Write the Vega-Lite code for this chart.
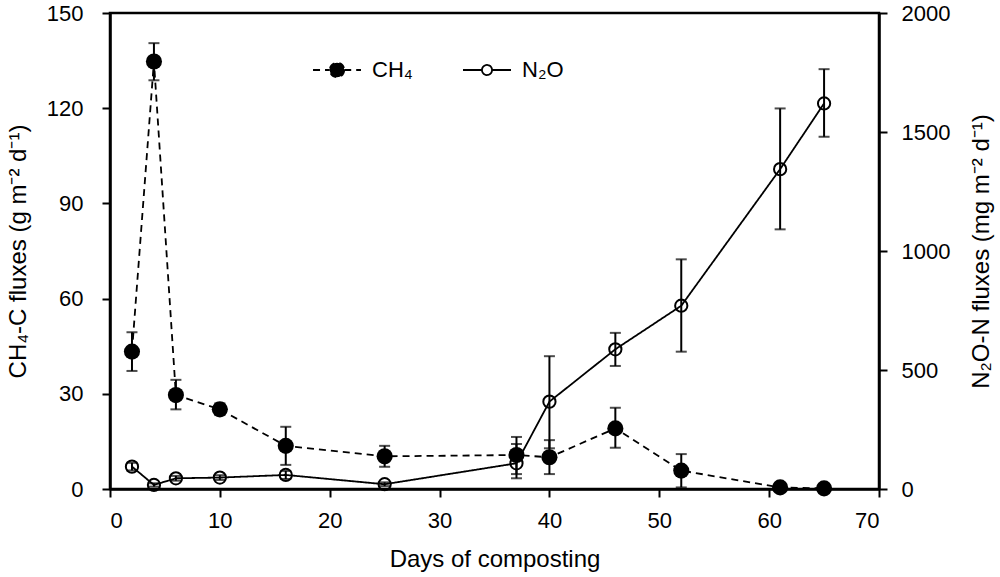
{
  "$schema": "https://vega.github.io/schema/vega-lite/v6.json",
  "width": 769,
  "height": 476,
  "autosize": {"type": "none"},
  "padding": {"left": 110, "top": 13, "right": 121, "bottom": 88},
  "background": "white",
  "config": {
    "font": "Liberation Sans",
    "view": {"stroke": "black", "strokeWidth": 2.5},
    "axis": {
      "grid": false,
      "domainColor": "black",
      "domainWidth": 2.5,
      "tickColor": "black",
      "tickWidth": 2,
      "tickSize": 8,
      "labelColor": "black",
      "labelFontSize": 22,
      "titleColor": "black",
      "titleFontSize": 24,
      "titleFontWeight": "normal"
    }
  },
  "datasets": {
    "ch4": [
      {"day": 2, "gas": "CH₄", "flux": 43.3, "lo": 37.2, "hi": 49.4},
      {"day": 4, "gas": "CH₄", "flux": 134.7, "lo": 128.8, "hi": 140.5},
      {"day": 6, "gas": "CH₄", "flux": 29.6, "lo": 25.1, "hi": 34.4},
      {"day": 10, "gas": "CH₄", "flux": 25.1, "lo": 23.3, "hi": 27.0},
      {"day": 16, "gas": "CH₄", "flux": 13.6, "lo": 7.6, "hi": 19.6},
      {"day": 25, "gas": "CH₄", "flux": 10.3, "lo": 7.0, "hi": 13.6},
      {"day": 37, "gas": "CH₄", "flux": 10.7, "lo": 4.7, "hi": 16.4},
      {"day": 40, "gas": "CH₄", "flux": 10.0, "lo": 4.7, "hi": 15.4},
      {"day": 46, "gas": "CH₄", "flux": 19.1, "lo": 13.0, "hi": 25.6},
      {"day": 52, "gas": "CH₄", "flux": 5.8, "lo": 0.5, "hi": 11.0},
      {"day": 61, "gas": "CH₄", "flux": 0.5, "lo": 0.2, "hi": 0.8},
      {"day": 65, "gas": "CH₄", "flux": 0.2, "lo": 0.1, "hi": 0.3}
    ],
    "n2o": [
      {"day": 2, "gas": "N₂O", "flux": 94, "lo": 78, "hi": 110},
      {"day": 4, "gas": "N₂O", "flux": 17, "lo": 10, "hi": 24},
      {"day": 6, "gas": "N₂O", "flux": 45, "lo": 35, "hi": 55},
      {"day": 10, "gas": "N₂O", "flux": 48, "lo": 38, "hi": 58},
      {"day": 16, "gas": "N₂O", "flux": 59, "lo": 42, "hi": 76},
      {"day": 25, "gas": "N₂O", "flux": 20, "lo": 12, "hi": 28},
      {"day": 37, "gas": "N₂O", "flux": 108, "lo": 45, "hi": 189},
      {"day": 40, "gas": "N₂O", "flux": 367, "lo": 171, "hi": 558},
      {"day": 46, "gas": "N₂O", "flux": 587, "lo": 517, "hi": 656},
      {"day": 52, "gas": "N₂O", "flux": 770, "lo": 577, "hi": 965},
      {"day": 61, "gas": "N₂O", "flux": 1344, "lo": 1091, "hi": 1599},
      {"day": 65, "gas": "N₂O", "flux": 1620, "lo": 1480, "hi": 1764}
    ]
  },
  "layer": [
    {
      "data": {"name": "ch4"},
      "encoding": {
        "x": {
          "field": "day", "type": "quantitative",
          "scale": {"domain": [0, 70], "nice": false},
          "axis": {"values": [0, 10, 20, 30, 40, 50, 60, 70], "title": "Days of composting", "labelPadding": 13, "titlePadding": 16}
        }
      },
      "layer": [
        {
          "mark": {"type": "rule", "color": "black", "strokeWidth": 2},
          "encoding": {
            "y": {"field": "lo", "type": "quantitative"},
            "y2": {"field": "hi"}
          }
        },
        {
          "mark": {"type": "tick", "color": "black", "thickness": 2, "size": 11, "orient": "horizontal"},
          "encoding": {"y": {"field": "lo", "type": "quantitative"}}
        },
        {
          "mark": {"type": "tick", "color": "black", "thickness": 2, "size": 11, "orient": "horizontal"},
          "encoding": {"y": {"field": "hi", "type": "quantitative"}}
        },
        {
          "mark": {"type": "line", "color": "black", "strokeWidth": 1.8},
          "encoding": {
            "y": {"field": "flux", "type": "quantitative"},
            "strokeDash": {
              "field": "gas", "type": "nominal",
              "scale": {"domain": ["CH₄", "N₂O"], "range": [[7, 5], [1, 0]]},
              "legend": {
                "orient": "none",
                "direction": "horizontal",
                "legendX": 202,
                "legendY": 32,
                "title": null,
                "padding": 0,
                "symbolSize": 2300,
                "symbolType": "M-1,0H-0.3M0.3,0H1M0.3,0A0.3,0.3 0 1,1 -0.3,0A0.3,0.3 0 1,1 0.3,0Z",
                "symbolStrokeColor": "black",
                "symbolStrokeWidth": 1.8,
                "labelFontSize": 22,
                "labelColor": "black",
                "labelOffset": 10,
                "columnPadding": 46,
                "encode": {
                  "symbols": {
                    "update": {
                      "fill": {"signal": "datum.value === 'CH₄' ? 'black' : 'transparent'"},
                      "fillOpacity": {"value": 1},
                      "stroke": {"value": "black"},
                      "strokeOpacity": {"value": 1},
                      "strokeWidth": {"value": 1.8},
                      "strokeDash": {"signal": "datum.value === 'CH₄' ? [6, 5] : [1, 0]"},
                      "shape": {"signal": "datum.value === 'CH₄' ? 'M-1,0H-0.3M0.3,0H1M0.3,0A0.3,0.3 0 1,1 -0.3,0A0.3,0.3 0 1,1 0.3,0Z' : 'M-1,0H-0.21M0.21,0H1M0.21,0A0.21,0.21 0 1,1 -0.21,0A0.21,0.21 0 1,1 0.21,0Z'"}
                    }
                  }
                }
              }
            }
          }
        },
        {
          "mark": {"type": "point", "shape": "circle", "filled": true, "color": "black", "size": 260, "opacity": 1},
          "encoding": {
            "y": {
              "field": "flux", "type": "quantitative",
              "scale": {"domain": [0, 150], "nice": false},
              "axis": {
                "orient": "left",
                "values": [0, 30, 60, 90, 120, 150],
                "title": "CH₄-C fluxes (g m⁻² d⁻¹)",
                "labelPadding": 19,
                "titlePadding": 16
              }
            }
          }
        }
      ]
    },
    {
      "data": {"name": "n2o"},
      "encoding": {
        "x": {"field": "day", "type": "quantitative"}
      },
      "layer": [
        {
          "mark": {"type": "rule", "color": "black", "strokeWidth": 2},
          "encoding": {
            "y": {"field": "lo", "type": "quantitative"},
            "y2": {"field": "hi"}
          }
        },
        {
          "mark": {"type": "tick", "color": "black", "thickness": 2, "size": 11, "orient": "horizontal"},
          "encoding": {"y": {"field": "lo", "type": "quantitative"}}
        },
        {
          "mark": {"type": "tick", "color": "black", "thickness": 2, "size": 11, "orient": "horizontal"},
          "encoding": {"y": {"field": "hi", "type": "quantitative"}}
        },
        {
          "mark": {"type": "line", "color": "black", "strokeWidth": 1.8},
          "encoding": {
            "y": {"field": "flux", "type": "quantitative"},
            "strokeDash": {"field": "gas", "type": "nominal"}
          }
        },
        {
          "mark": {"type": "point", "shape": "circle", "filled": false, "color": "black", "size": 150, "strokeWidth": 2, "opacity": 1},
          "encoding": {
            "y": {
              "field": "flux", "type": "quantitative",
              "scale": {"domain": [0, 2000], "nice": false},
              "axis": {
                "orient": "right",
                "values": [0, 500, 1000, 1500, 2000],
                "format": "d",
                "title": "N₂O-N fluxes (mg m⁻² d⁻¹)",
                "titleAngle": 270,
                "titleBaseline": "bottom",
                "labelPadding": 14,
                "titlePadding": 44
              }
            }
          }
        }
      ]
    }
  ],
  "resolve": {"scale": {"y": "independent"}}
}
